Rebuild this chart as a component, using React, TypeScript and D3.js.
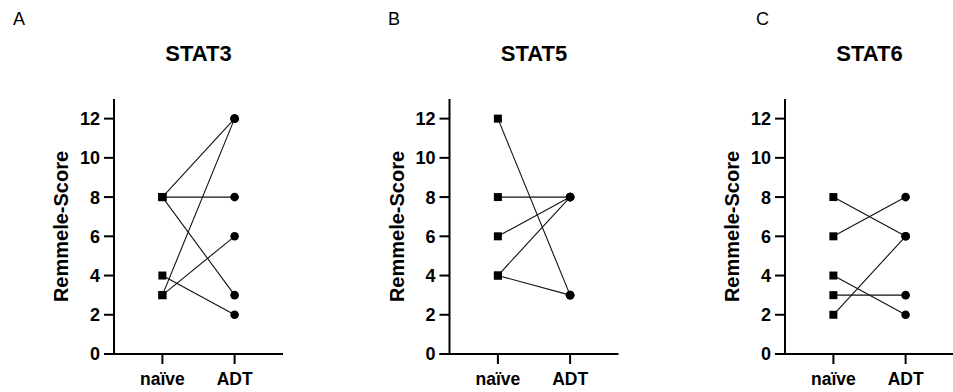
import React from "react";
import * as d3 from "d3";

const groups = ["naïve", "ADT"];
const panelLetters = ["A", "B", "C"];
const titles = ["STAT3", "STAT5", "STAT6"];
const yTicks = [0, 2, 4, 6, 8, 10, 12];
const yLabel = "Remmele-Score";

// paired values [naïve, ADT]
const stat3Pairs: [number, number][] = [
  [8, 12],
  [8, 8],
  [8, 3],
  [3, 12],
  [3, 6],
  [4, 2],
];
const stat5Pairs: [number, number][] = [
  [12, 3],
  [8, 8],
  [6, 8],
  [4, 8],
  [4, 3],
];
const stat6Pairs: [number, number][] = [
  [8, 6],
  [6, 8],
  [4, 2],
  [3, 3],
  [2, 6],
];
const panelData = [stat3Pairs, stat5Pairs, stat6Pairs];

const W = 953;
const H = 392;
const FONT = "'Liberation Sans', Arial, Helvetica, sans-serif";
const axisXs = [114, 449.5, 785];
const letterXs = [13, 388, 756];
const plotW = 169;
const yTop = 99;
const yBottom = 354;
const tickLen = 10;

function Panel({ idx }: { idx: number }) {
  const ax = axisXs[idx];
  const y = d3.scaleLinear().domain([0, 13]).range([yBottom, yTop]);
  const x = d3
    .scalePoint<string>()
    .domain(groups)
    .range([ax, ax + plotW])
    .padding(0.67);
  const pairs = panelData[idx];
  const line = d3
    .line<[string, number]>()
    .x((d) => x(d[0]) as number)
    .y((d) => y(d[1]));
  const sq = 8;
  return (
    <g>
      <text x={letterXs[idx]} y={25} fontSize={18} fontFamily={FONT} fill="#000">
        {panelLetters[idx]}
      </text>
      <text
        x={ax + plotW / 2}
        y={61}
        fontSize={22}
        fontWeight="bold"
        fontFamily={FONT}
        textAnchor="middle"
        fill="#000"
      >
        {titles[idx]}
      </text>
      <text
        transform={`translate(${ax - 46},${(yTop + yBottom) / 2}) rotate(-90)`}
        fontSize={20}
        fontWeight="bold"
        fontFamily={FONT}
        textAnchor="middle"
        fill="#000"
      >
        {yLabel}
      </text>
      {/* y axis */}
      <line x1={ax} x2={ax} y1={yTop} y2={yBottom + 1} stroke="#000" strokeWidth={2} />
      {yTicks.map((t) => (
        <g key={t}>
          <line x1={ax - tickLen} x2={ax} y1={y(t)} y2={y(t)} stroke="#000" strokeWidth={2} />
          <text
            x={ax - tickLen - 4}
            y={y(t)}
            dy="0.36em"
            textAnchor="end"
            fontSize={18}
            fontWeight="bold"
            fontFamily={FONT}
            fill="#000"
          >
            {t}
          </text>
        </g>
      ))}
      {/* x axis */}
      <line x1={ax - tickLen} x2={ax + plotW} y1={yBottom} y2={yBottom} stroke="#000" strokeWidth={2} />
      {groups.map((g) => (
        <g key={g}>
          <line
            x1={x(g)}
            x2={x(g)}
            y1={yBottom}
            y2={yBottom + tickLen}
            stroke="#000"
            strokeWidth={2}
          />
          <text
            x={x(g)}
            y={385}
            textAnchor="middle"
            fontSize={17.5}
            fontWeight="bold"
            fontFamily={FONT}
            fill="#000"
          >
            {g}
          </text>
        </g>
      ))}
      {/* paired lines */}
      {pairs.map((p, i) => (
        <path
          key={"l" + i}
          d={line([
            [groups[0], p[0]],
            [groups[1], p[1]],
          ]) as string}
          fill="none"
          stroke="#111"
          strokeWidth={1.1}
        />
      ))}
      {pairs.map((p, i) => (
        <rect
          key={"s" + i}
          x={(x(groups[0]) as number) - sq / 2}
          y={y(p[0]) - sq / 2}
          width={sq}
          height={sq}
          fill="#000"
        />
      ))}
      {pairs.map((p, i) => (
        <circle key={"c" + i} cx={x(groups[1]) as number} cy={y(p[1])} r={4.3} fill="#000" />
      ))}
    </g>
  );
}

export default function App() {
  return (
    <svg
      width={W}
      height={H}
      style={{ position: "absolute", left: 0, top: 0, background: "#fff" }}
    >
      <rect width={W} height={H} fill="#fff" />
      {titles.map((_, i) => (
        <Panel key={i} idx={i} />
      ))}
    </svg>
  );
}
